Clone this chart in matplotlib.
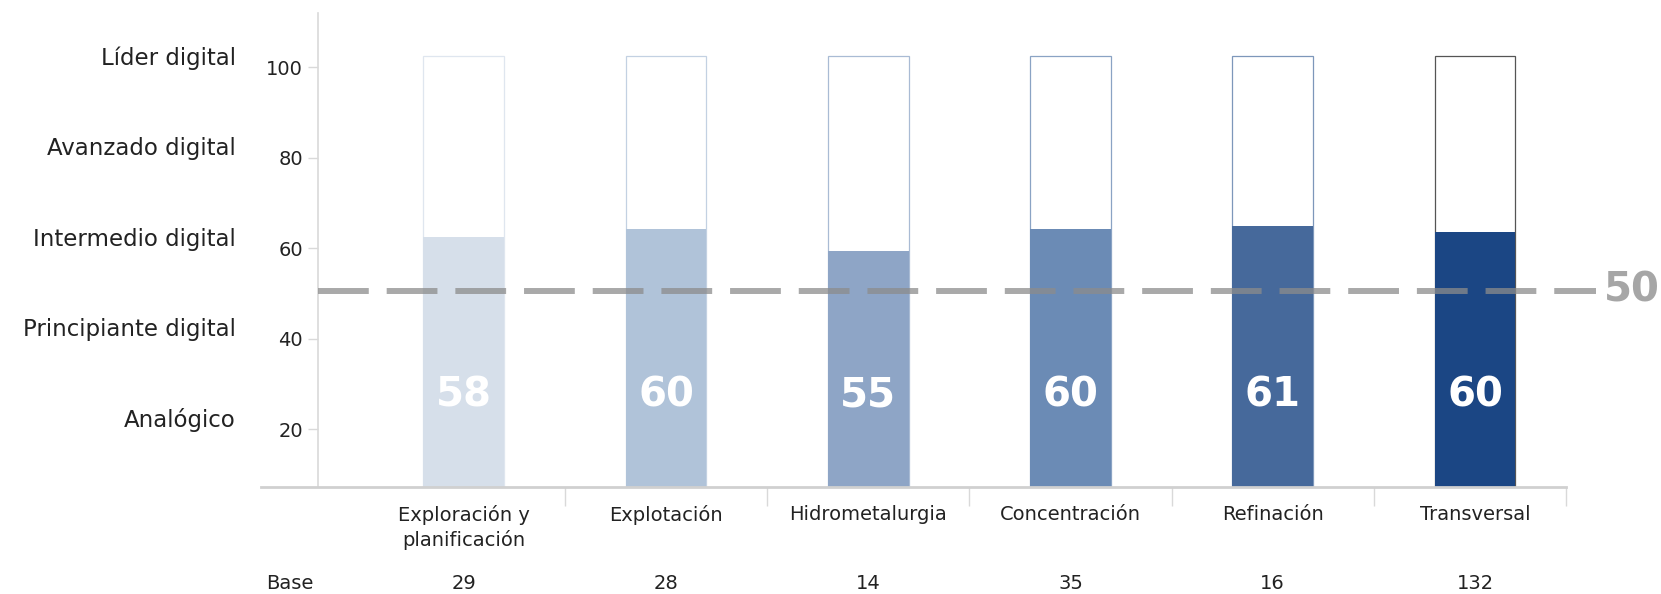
import matplotlib
matplotlib.use('Agg')
import matplotlib.pyplot as plt
import matplotlib.transforms as mtransforms

plt.rcParams['font.family'] = ['DejaVu Sans']

# datos
categorias = ['Exploración y\nplanificación', 'Explotación', 'Hidrometalurgia',
              'Concentración', 'Refinación', 'Transversal']
puntaje = [58, 60, 55, 60, 61, 60]             # etiqueta de cada barra
altura_barra = [62.5, 64.3, 59.4, 64.3, 65.0, 63.6]  # altura dibujada
tope = 102.6
base = [29, 28, 14, 35, 16, 132]
niveles = ['Analógico', 'Principiante digital', 'Intermedio digital',
           'Avanzado digital', 'Líder digital']
ticks_y = [20, 40, 60, 80, 100]
referencia = 50.6

colores = ['#d6dfea', '#b0c3d9', '#8ea5c6', '#6b8bb5', '#46699b', '#1b4684']
bordes = ['#dfe6ef', '#c3d1e2', '#a9bbd4', '#8aa3c4', '#7d97ba', '#555555']

fig = plt.figure(figsize=(16.61, 5.94), dpi=100)
ax = fig.add_axes([0.1915, 0.1801, 0.7513, 0.798])

x = list(range(len(categorias)))
ax.bar(x, [tope] * len(x), width=0.4, color='white', edgecolor=bordes, linewidth=0.9, zorder=1)
ax.bar(x, altura_barra, width=0.4, color=colores, linewidth=0, zorder=2)

ax.set_xlim(-0.72, 5.45)
ax.set_ylim(7.2, 112)
x0, x1 = ax.get_xlim()

ax.plot([x0, 5.6], [referencia, referencia], color='#8c8c8c', alpha=0.75, lw=4.3,
        dashes=(8.5, 3), zorder=3, clip_on=False)
ax.text(5.64, referencia, '50', ha='left', va='center', fontsize=29,
        fontweight='bold', color='#a6a6a6', clip_on=False)

for xi, p in zip(x, puntaje):
    ax.text(xi, 27.5, str(p), ha='center', va='center', fontsize=29,
            fontweight='bold', color='white', zorder=4)

ax.set_yticks(ticks_y)
ax.tick_params(axis='y', length=7, width=1, color='#d9d9d9', labelsize=14,
               labelcolor='#222222', pad=4)
ax.set_xticks(x)
ax.set_xticklabels(categorias, fontsize=14, color='#222222', linespacing=1.3)
ax.set_xticks([i + 0.5 for i in x[:-1]] + [x1], minor=True)
ax.tick_params(axis='x', which='major', length=0, pad=13)
ax.tick_params(axis='x', which='minor', length=14, width=1, color='#d9d9d9')

for s in ['top', 'right', 'bottom']:
    ax.spines[s].set_visible(False)
ax.spines['left'].set_color('#d9d9d9')
ax.spines['left'].set_linewidth(1.2)
ax.plot([-1.0, x1], [7.2, 7.2], color='#d0d0d0', lw=2, clip_on=False, zorder=5)

trans_niv = mtransforms.blended_transform_factory(ax.transAxes, ax.transData)
for t, nombre in zip(ticks_y, niveles):
    ax.text(-0.066, t + 2, nombre, transform=trans_niv, ha='right', va='center',
            fontsize=16.5, color='#222222')

trans_base = mtransforms.blended_transform_factory(ax.transData, fig.transFigure)
ax.text(-0.86, 0.017, 'Base', transform=trans_base, ha='center', va='center',
        fontsize=14, color='#222222')
for xi, b in zip(x, base):
    ax.text(xi, 0.017, str(b), transform=trans_base, ha='center', va='center',
            fontsize=14, color='#222222')

fig.savefig('out.png', dpi=100)
